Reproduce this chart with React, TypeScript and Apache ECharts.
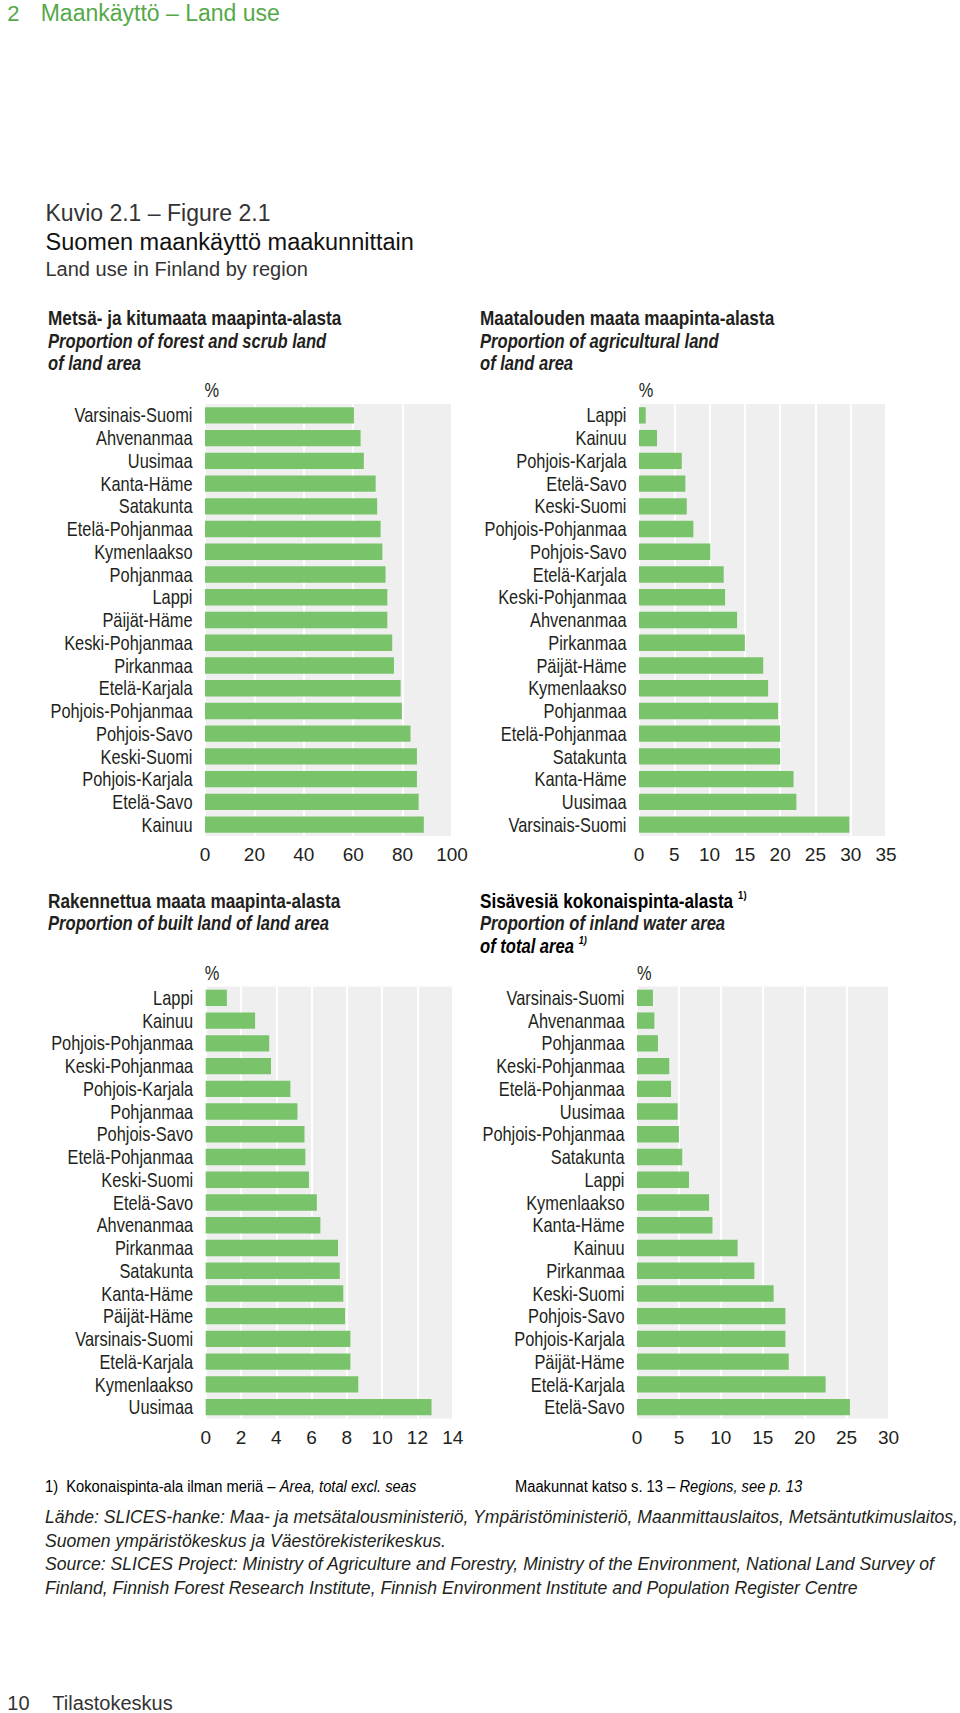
import React, { useEffect, useRef } from "react";
import * as echarts from "echarts";

// ---------- DATA ----------
const forestRegions = [
  "Varsinais-Suomi", "Ahvenanmaa", "Uusimaa", "Kanta-Häme", "Satakunta",
  "Etelä-Pohjanmaa", "Kymenlaakso", "Pohjanmaa", "Lappi", "Päijät-Häme",
  "Keski-Pohjanmaa", "Pirkanmaa", "Etelä-Karjala", "Pohjois-Pohjanmaa",
  "Pohjois-Savo", "Keski-Suomi", "Pohjois-Karjala", "Etelä-Savo", "Kainuu",
];
const forestValues = [
  60.3, 63.0, 64.3, 69.1, 69.7, 71.1, 71.8, 73.1, 73.8, 73.8,
  75.8, 76.5, 79.2, 79.7, 83.2, 85.8, 85.8, 86.5, 88.6,
];

const agriRegions = [
  "Lappi", "Kainuu", "Pohjois-Karjala", "Etelä-Savo", "Keski-Suomi",
  "Pohjois-Pohjanmaa", "Pohjois-Savo", "Etelä-Karjala", "Keski-Pohjanmaa",
  "Ahvenanmaa", "Pirkanmaa", "Päijät-Häme", "Kymenlaakso", "Pohjanmaa",
  "Etelä-Pohjanmaa", "Satakunta", "Kanta-Häme", "Uusimaa", "Varsinais-Suomi",
];
const agriValues = [
  0.95, 2.55, 6.06, 6.57, 6.77, 7.7, 10.1, 12.0, 12.2, 13.9,
  15.0, 17.6, 18.3, 19.7, 20.0, 20.0, 21.9, 22.3, 29.8,
];

const builtRegions = [
  "Lappi", "Kainuu", "Pohjois-Pohjanmaa", "Keski-Pohjanmaa", "Pohjois-Karjala",
  "Pohjanmaa", "Pohjois-Savo", "Etelä-Pohjanmaa", "Keski-Suomi", "Etelä-Savo",
  "Ahvenanmaa", "Pirkanmaa", "Satakunta", "Kanta-Häme", "Päijät-Häme",
  "Varsinais-Suomi", "Etelä-Karjala", "Kymenlaakso", "Uusimaa",
];
const builtValues = [
  1.2, 2.8, 3.6, 3.7, 4.8, 5.2, 5.6, 5.65, 5.85, 6.3,
  6.5, 7.5, 7.6, 7.8, 7.9, 8.2, 8.2, 8.65, 12.8,
];

const waterRegions = [
  "Varsinais-Suomi", "Ahvenanmaa", "Pohjanmaa", "Keski-Pohjanmaa",
  "Etelä-Pohjanmaa", "Uusimaa", "Pohjois-Pohjanmaa", "Satakunta", "Lappi",
  "Kymenlaakso", "Kanta-Häme", "Kainuu", "Pirkanmaa", "Keski-Suomi",
  "Pohjois-Savo", "Pohjois-Karjala", "Päijät-Häme", "Etelä-Karjala", "Etelä-Savo",
];
const waterValues = [
  1.9, 2.07, 2.5, 3.85, 4.06, 4.85, 5.0, 5.4, 6.2,
  8.6, 9.0, 12.0, 14.0, 16.3, 17.7, 17.7, 18.1, 22.5, 25.4,
];

const axisMax = [100, 35, 14, 30];
const axisInterval = [20, 5, 2, 5];

// ---------- STYLE ----------
const SANS = '"Liberation Sans", Arial, sans-serif';
const TEXT = "#231f20";
const BAR = "#79c46b";
const PLOT_BG = "#efefef";
const HEAD_GREEN = "#55a948";
const NARROW_SCALE = 0.82;

const panels = [
  { cats: forestRegions, vals: forestValues, grid: { left: 205, top: 404, width: 247, height: 432 } },
  { cats: agriRegions, vals: agriValues, grid: { left: 639, top: 404, width: 247, height: 432 } },
  { cats: builtRegions, vals: builtValues, grid: { left: 205.7, top: 986.5, width: 247, height: 432 } },
  { cats: waterRegions, vals: waterValues, grid: { left: 637, top: 986.5, width: 251.5, height: 432 } },
];

function txt(x: number, y: number, text: string, font: string, fill = TEXT, align = "left", scaleX = 1) {
  return {
    type: "text",
    x,
    y,
    scaleX,
    silent: true,
    style: {
      text,
      font,
      fill,
      align,
      verticalAlign: "middle",
      textAlign: align,
      textVerticalAlign: "middle",
    },
  };
}

function rich(x: number, y: number, text: string, richDef: any, scaleX = 1) {
  return {
    type: "text",
    x,
    y,
    scaleX,
    silent: true,
    style: {
      text,
      rich: richDef,
      align: "left",
      verticalAlign: "middle",
      textAlign: "left",
      textVerticalAlign: "middle",
    },
  };
}

const titleBold = `bold 20px ${SANS}`;
const titleItalic = `italic bold 20px ${SANS}`;
const TB = 0.86;
const TI = 0.83;

const supRich = (style: "normal" | "italic") => ({
  t: { fontFamily: SANS, fontSize: 20, fontWeight: "bold", fontStyle: style, color: TEXT, lineHeight: 22 },
  s: { fontFamily: SANS, fontSize: 11, fontWeight: "bold", fontStyle: style, color: TEXT, lineHeight: 22, verticalAlign: "top", padding: [0, 0, 10, 0] },
});

const footRich = {
  n: { fontFamily: SANS, fontSize: 16, color: TEXT },
  i: { fontFamily: SANS, fontSize: 16, fontStyle: "italic", color: TEXT },
};

const FOOT = `italic 17.6px ${SANS}`;

const graphics: any[] = [
  txt(7.3, 13, "2", `22px ${SANS}`, HEAD_GREEN),
  txt(40.7, 13, "Maankäyttö – Land use", `23px ${SANS}`, HEAD_GREEN),
  txt(45.5, 213, "Kuvio 2.1 – Figure 2.1", `23px ${SANS}`, "#333"),
  txt(45.5, 241.5, "Suomen maankäyttö maakunnittain", `23.5px ${SANS}`, "#111"),
  txt(45.5, 269, "Land use in Finland by region", `20px ${SANS}`, "#333"),

  txt(48, 318.3, "Metsä- ja kitumaata maapinta-alasta", titleBold, TEXT, "left", TB),
  txt(48, 340.7, "Proportion of forest and scrub land", titleItalic, TEXT, "left", TI),
  txt(48, 363.3, "of land area", titleItalic, TEXT, "left", TI),

  txt(480, 318.3, "Maatalouden maata maapinta-alasta", titleBold, TEXT, "left", TB),
  txt(480, 340.7, "Proportion of agricultural land", titleItalic, TEXT, "left", TI),
  txt(480, 363.3, "of land area", titleItalic, TEXT, "left", TI),

  txt(48, 900.7, "Rakennettua maata maapinta-alasta", titleBold, TEXT, "left", TB),
  txt(48, 923.3, "Proportion of built land of land area", titleItalic, TEXT, "left", TI),

  rich(480, 900.7, "{t|Sisävesiä kokonaispinta-alasta }{s|1)}", supRich("normal"), TB),
  txt(480, 923.3, "Proportion of inland water area", titleItalic, TEXT, "left", TI),
  rich(480, 946, "{t|of total area }{s|1)}", supRich("italic"), TI),

  txt(211.7, 390, "%", `20px ${SANS}`, TEXT, "center", NARROW_SCALE),
  txt(646, 390, "%", `20px ${SANS}`, TEXT, "center", NARROW_SCALE),
  txt(212, 973, "%", `20px ${SANS}`, TEXT, "center", NARROW_SCALE),
  txt(644.3, 973, "%", `20px ${SANS}`, TEXT, "center", NARROW_SCALE),

  rich(45, 1486.5, "{n|1)  Kokonaispinta-ala ilman meriä – }{i|Area, total excl. seas}", footRich, 0.92),
  rich(515, 1486.5, "{n|Maakunnat katso s. 13 – }{i|Regions, see p. 13}", footRich, 0.92),
  txt(45, 1517, "Lähde: SLICES-hanke: Maa- ja metsätalousministeriö, Ympäristöministeriö, Maanmittauslaitos, Metsäntutkimuslaitos,", FOOT),
  txt(45, 1541, "Suomen ympäristökeskus ja Väestörekisterikeskus.", FOOT),
  txt(45, 1564, "Source: SLICES Project: Ministry of Agriculture and Forestry, Ministry of the Environment, National Land Survey of", FOOT),
  txt(45, 1588, "Finland, Finnish Forest Research Institute, Finnish Environment Institute and Population Register Centre", FOOT),

  txt(7.3, 1703, "10", `20px ${SANS}`, "#333"),
  txt(52.3, 1703, "Tilastokeskus", `20px ${SANS}`, "#333"),
];

const option: any = {
  animation: false,
  backgroundColor: "#ffffff",
  grid: panels.map((p) => ({
    ...p.grid,
    show: true,
    backgroundColor: PLOT_BG,
    borderWidth: 0,
    containLabel: false,
  })),
  xAxis: panels.map((p, i) => ({
    type: "value",
    gridIndex: i,
    min: 0,
    max: axisMax[i],
    interval: axisInterval[i],
    axisLine: { show: false },
    axisTick: { show: false },
    splitLine: { show: true, lineStyle: { color: "#ffffff", width: 2 } },
    axisLabel: { fontFamily: SANS, fontSize: 19, color: TEXT, margin: 9 },
  })),
  yAxis: panels.map((p, i) => ({
    type: "category",
    gridIndex: i,
    inverse: true,
    data: p.cats,
    axisLine: { show: false },
    axisTick: { show: false },
    splitLine: { show: false },
    axisLabel: { show: false },
  })),
  series: panels.map((p, i) => ({
    type: "bar",
    xAxisIndex: i,
    yAxisIndex: i,
    data: p.vals,
    barCategoryGap: "28%",
    itemStyle: { color: BAR },
    silent: true,
  })),
  graphic: { elements: graphics },
};

export default function App() {
  const ref = useRef<HTMLDivElement>(null);
  useEffect(() => {
    if (!ref.current) return;
    const chart = echarts.init(ref.current, null, { renderer: "svg" });
    chart.setOption(option);
    // category labels, placed via the axes' own scales, drawn condensed
    const labelEls: any[] = [];
    panels.forEach((p, i) => {
      const x0 = chart.convertToPixel({ xAxisIndex: i }, 0) as number;
      p.cats.forEach((c) => {
        const y = chart.convertToPixel({ yAxisIndex: i }, c) as number;
        labelEls.push(txt(x0 - 12.5, y, c, `20px ${SANS}`, TEXT, "right", NARROW_SCALE));
      });
    });
    chart.setOption({ graphic: { elements: [...graphics, ...labelEls] } });
    return () => chart.dispose();
  }, []);
  return (
    <div
      ref={ref}
      style={{ position: "absolute", left: 0, top: 0, width: 960, height: 1713, background: "#fff" }}
    />
  );
}
